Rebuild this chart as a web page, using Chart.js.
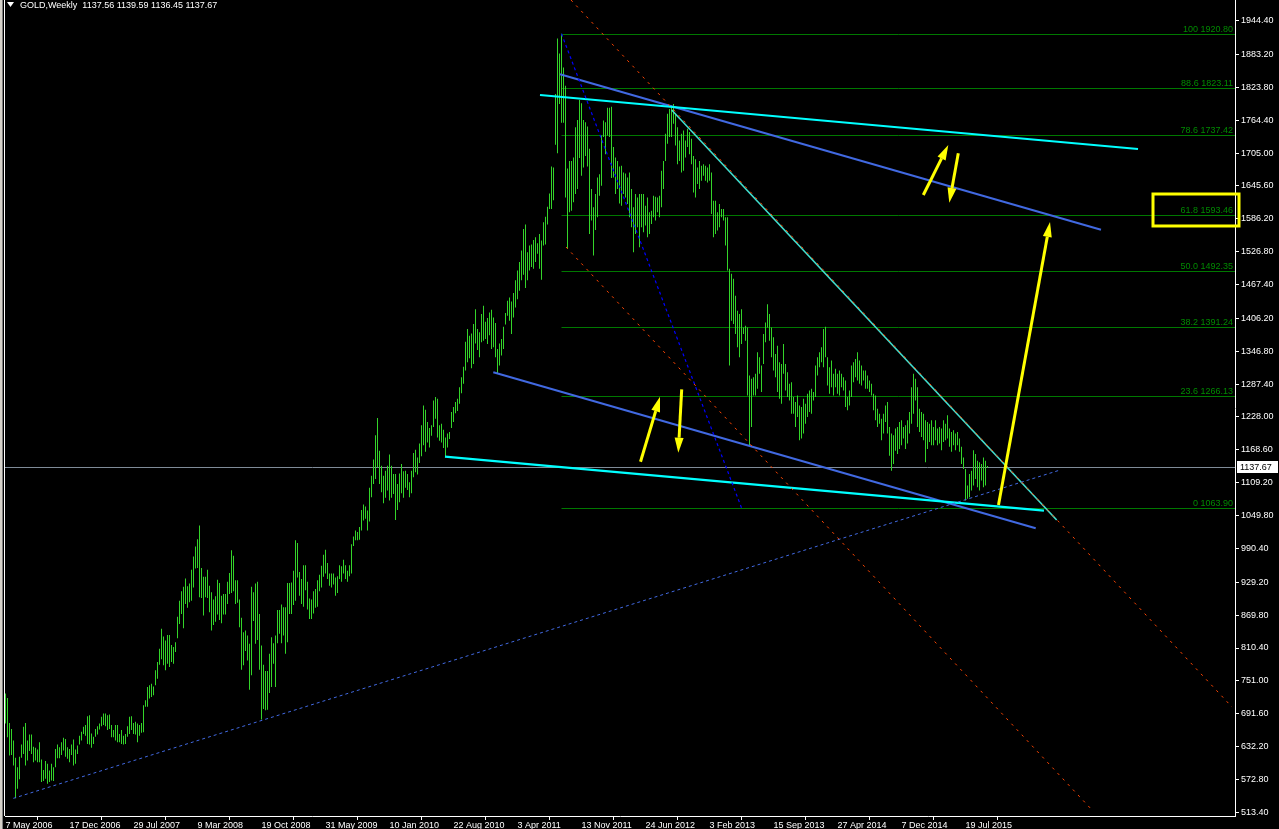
<!DOCTYPE html>
<html>
<head>
<meta charset="utf-8">
<title>GOLD,Weekly</title>
<script src="https://cdn.jsdelivr.net/npm/chart.js@4.4.1/dist/chart.umd.min.js"></script>
<style>
  html, body { margin: 0; padding: 0; background: #000; overflow: hidden; }
  canvas { display: block; }
</style>
</head>
<body>
<canvas id="chart" width="1279" height="829"></canvas>
<script>
// ---- values ----
const symbolTitle = 'GOLD,Weekly';
const lastBar = [1137.56, 1139.59, 1136.45, 1137.67]; // O H L C of the running week

// one date label every 32 weekly bars, first bar = week of 7 May 2006
const dateLabels = ['7 May 2006', '17 Dec 2006', '29 Jul 2007', '9 Mar 2008', '19 Oct 2008',
  '31 May 2009', '10 Jan 2010', '22 Aug 2010', '3 Apr 2011', '13 Nov 2011', '24 Jun 2012',
  '3 Feb 2013', '15 Sep 2013', '27 Apr 2014', '7 Dec 2014', '19 Jul 2015'];
const labelStep = 32;

const priceTicks = [1944.40, 1883.20, 1823.80, 1764.40, 1705.00, 1645.60, 1586.20, 1526.80,
  1467.40, 1406.20, 1346.80, 1287.40, 1228.00, 1168.60, 1109.20, 1049.80, 990.40, 929.20,
  869.80, 810.40, 751.00, 691.60, 632.20, 572.80, 513.40];

// weekly highs / lows
const weekHigh = [
  728,720,675,664,643,612,595,614,636,668,
  675,643,654,654,632,630,627,640,609,590,
  606,601,589,601,595,628,636,631,640,648,
  646,631,628,636,645,627,634,652,659,668,
  671,687,689,656,650,664,669,674,686,692,
  692,689,690,671,662,671,671,655,662,652,
  655,669,686,687,675,677,674,671,675,707,
  716,740,743,746,741,770,785,809,845,831,
  824,834,834,816,812,821,867,896,913,921,
  936,922,927,952,976,994,1007,1032,955,939,
  939,952,923,911,898,904,934,928,905,908,
  908,930,946,987,977,933,933,898,865,839,
  842,833,818,921,911,927,930,872,815,780,
  769,769,800,830,819,833,879,879,889,884,
  884,928,928,929,950,1005,1000,948,935,960,
  960,930,900,898,913,917,933,943,959,979,
  988,964,945,945,945,938,940,960,958,970,
  960,950,960,998,1012,1023,1020,1029,1060,1070,
  1066,1059,1100,1122,1151,1195,1226,1167,1140,1122,
  1131,1140,1160,1140,1125,1125,1107,1126,1143,1130,
  1131,1125,1110,1131,1163,1169,1155,1180,1213,1249,
  1241,1219,1208,1213,1258,1264,1261,1213,1216,1205,
  1191,1198,1201,1237,1246,1255,1261,1282,1300,1319,
  1364,1387,1375,1379,1396,1423,1387,1381,1414,1429,
  1400,1407,1417,1422,1408,1398,1351,1361,1369,1391,
  1416,1438,1444,1437,1452,1475,1493,1508,1529,1568,
  1576,1526,1538,1540,1548,1553,1542,1559,1547,1580,
  1590,1608,1632,1681,1679,1812,1912,1885,1921,1860,
  1827,1677,1691,1691,1697,1752,1765,1801,1795,1765,
  1761,1753,1713,1640,1607,1631,1661,1667,1737,1764,
  1761,1787,1787,1789,1716,1697,1691,1681,1682,1670,
  1668,1661,1670,1640,1607,1631,1625,1631,1631,1631,
  1610,1625,1598,1601,1628,1626,1625,1628,1673,1691,
  1740,1776,1785,1791,1794,1776,1752,1728,1740,1746,
  1728,1749,1743,1731,1700,1694,1679,1691,1682,1685,
  1682,1679,1685,1670,1619,1619,1598,1613,1604,1604,
  1589,1589,1496,1487,1478,1447,1420,1414,1423,1390,
  1393,1390,1303,1297,1300,1306,1345,1336,1321,1378,
  1399,1432,1414,1390,1372,1342,1357,1327,1324,1360,
  1324,1309,1288,1291,1264,1255,1267,1249,1246,1261,
  1252,1270,1276,1279,1273,1321,1336,1345,1354,1387,
  1391,1336,1318,1330,1306,1315,1306,1312,1306,1300,
  1294,1264,1276,1321,1327,1333,1345,1330,1321,1312,
  1312,1303,1294,1288,1270,1267,1243,1234,1225,1234,
  1249,1255,1210,1198,1195,1207,1210,1219,1222,1210,
  1213,1222,1237,1282,1306,1297,1282,1243,1237,1234,
  1222,1219,1216,1222,1210,1222,1207,1210,1207,1222,
  1216,1231,1207,1201,1204,1198,1201,1189,1174,1155,
  1134,1104,1125,1131,1168,1161,1149,1146,1143,1155,
  1149,1139.59
];
const weekLow = [
  674,649,616,617,598,539,556,573,612,619,
  598,607,624,619,604,607,604,604,568,570,
  574,565,568,571,570,595,611,611,617,625,
  614,610,604,617,598,601,619,636,643,655,
  652,637,636,630,637,650,654,663,669,671,
  669,662,664,649,649,643,640,640,637,636,
  637,650,655,662,655,654,640,652,657,658,
  704,704,719,722,725,743,755,780,790,779,
  770,782,776,785,782,803,828,854,872,846,
  890,883,893,896,920,954,955,902,901,869,
  902,901,875,842,852,858,871,861,855,871,
  871,890,908,910,913,890,892,848,771,779,
  805,788,735,761,859,818,825,771,681,700,
  698,699,729,740,782,740,819,836,819,833,
  800,821,872,872,888,896,938,905,890,885,
  915,880,863,863,873,883,885,913,920,939,
  945,935,923,920,925,905,910,935,930,945,
  935,930,940,945,995,1005,1005,1006,1023,1041,
  1044,1023,1039,1083,1107,1116,1137,1107,1092,1072,
  1082,1095,1077,1082,1089,1042,1060,1074,1090,1082,
  1100,1096,1083,1090,1119,1128,1124,1145,1157,1177,
  1165,1182,1173,1194,1210,1225,1191,1185,1182,1172,
  1155,1173,1188,1208,1219,1235,1239,1252,1271,1288,
  1312,1327,1334,1316,1324,1361,1349,1336,1363,1366,
  1369,1360,1376,1351,1354,1336,1307,1321,1339,1351,
  1395,1411,1402,1378,1408,1426,1441,1456,1475,1485,
  1461,1475,1493,1499,1496,1508,1523,1496,1476,1538,
  1540,1576,1604,1604,1620,1720,1705,1794,1760,1760,
  1625,1532,1598,1601,1616,1631,1640,1696,1664,1679,
  1700,1681,1559,1583,1520,1566,1589,1628,1646,1734,
  1703,1737,1734,1660,1661,1631,1640,1614,1610,1631,
  1625,1613,1589,1571,1526,1559,1571,1535,1571,1562,
  1574,1553,1559,1577,1589,1583,1598,1589,1607,1640,
  1691,1722,1734,1734,1758,1719,1685,1691,1670,1673,
  1697,1716,1703,1685,1634,1625,1649,1640,1655,1664,
  1655,1652,1655,1595,1553,1559,1565,1571,1589,1583,
  1538,1493,1321,1402,1396,1378,1354,1336,1360,1378,
  1366,1267,1177,1210,1267,1267,1279,1306,1273,1324,
  1363,1390,1366,1336,1312,1300,1273,1261,1252,1306,
  1276,1264,1258,1234,1234,1210,1228,1186,1189,1198,
  1216,1228,1237,1234,1258,1264,1303,1318,1327,1318,
  1336,1285,1270,1282,1267,1282,1270,1267,1282,1276,
  1246,1240,1249,1264,1291,1300,1294,1288,1285,1294,
  1279,1279,1273,1267,1240,1222,1210,1216,1186,1198,
  1219,1198,1158,1131,1143,1167,1161,1170,1177,1189,
  1170,1180,1198,1216,1234,1258,1210,1201,1192,1186,
  1146,1170,1183,1177,1177,1186,1177,1180,1168,1183,
  1186,1189,1174,1165,1177,1168,1177,1165,1143,1134,
  1077,1080,1083,1095,1104,1116,1101,1095,1113,1101,
  1104,1136.45
];

// Fibonacci retracement from the Sep 2011 top
const fibLevels = ['100', '88.6', '78.6', '61.8', '50.0', '38.2', '23.6', '0'];
const fibPrices = [1920.80, 1823.11, 1737.42, 1593.46, 1492.35, 1391.24, 1266.13, 1063.90];
const fibStartBar = 278;

// drawn trend lines: [bar1, price1, bar2, price2]
const trendLineEnds = [
  [267.25, 1810.1, 566.25, 1712.5],   // upper cyan
  [277.25, 1847.5, 547.75, 1566.6],   // upper blue
  [219.75, 1156.2, 519.25, 1058.6],   // lower cyan
  [243.9, 1308.8, 515.1, 1026.8],     // lower blue
  [333.1, 1782.9, 525.6, 1041.8],     // falling turquoise
  [282.75, 1981.8, 613.25, 703.7],    // channel, red dots
  [280.25, 1535.3, 543.75, 515.7],    // channel, red dots
  [278, 1920.8, 368, 1063.9],         // fibo base, blue dots
  [3.9, 538.6, 527.25, 1132.1]        // long support, blue dashes
];
// yellow arrows: [bar1, price1, barTip, priceTip]
const arrowEnds = [
  [317.5, 1147.1, 327.25, 1264.6],
  [338.1, 1278.0, 336.4, 1163.4],
  [458.9, 1629.3, 471.4, 1719.7],
  [476.4, 1704.7, 471.9, 1615.4],
  [496.5, 1068.9, 522.25, 1580.5]
];
// yellow frame round the 61.8 level: [bar1, priceTop, bar2, priceBottom]
const markedBox = [573.75, 1631.1, 616.75, 1573.3];

// ---- styles ----
const fontFamily = '"Liberation Sans", Arial, sans-serif';
const smallFont = '9px ' + fontFamily;
const barColor = '#33d429';
const fibColor = '#007800';
const fibTextColor = '#008a00';
const trendStyles = [
  { color: '#00ffff', width: 2.2, dash: [], order: 2 },
  { color: '#4169e1', width: 2, dash: [], order: 2 },
  { color: '#00ffff', width: 2.2, dash: [], order: 2 },
  { color: '#4169e1', width: 2, dash: [], order: 2 },
  { color: '#40e0d0', width: 1.6, dash: [], order: 3 },
  { color: '#ff4500', width: 1, dash: [2.5, 5], order: 1 },
  { color: '#ff4500', width: 1, dash: [2.5, 5], order: 1 },
  { color: '#0000ff', width: 1.2, dash: [3, 3], order: 1 },
  { color: '#4169e1', width: 1, dash: [3, 3], order: 1 }
];

const barData = weekHigh.map((h, i) => ({ x: i, y: [weekLow[i], h] }));

const lineSets = trendLineEnds.map((e, k) => ({
  type: 'line',
  data: [{ x: e[0], y: e[1] }, { x: e[2], y: e[3] }],
  borderColor: trendStyles[k].color,
  borderWidth: trendStyles[k].width,
  borderDash: trendStyles[k].dash,
  pointRadius: 0,
  fill: false,
  order: trendStyles[k].order
}));

function drawArrow(ctx, x1, y1, x2, y2) {
  const a = Math.atan2(y2 - y1, x2 - x1);
  const hl = 15, hw = 4.5;
  const bx = x2 - hl * Math.cos(a), by = y2 - hl * Math.sin(a);
  ctx.beginPath();
  ctx.moveTo(x1, y1);
  ctx.lineTo(bx, by);
  ctx.stroke();
  ctx.beginPath();
  ctx.moveTo(x2, y2);
  ctx.lineTo(bx + hw * Math.sin(a), by - hw * Math.cos(a));
  ctx.lineTo(bx - hw * Math.sin(a), by + hw * Math.cos(a));
  ctx.closePath();
  ctx.fill();
}

// no extra room for half labels at the ends of the axes
function noEndPadding(s) {
  s.paddingTop = 0;
  s.paddingBottom = 0;
  s.paddingLeft = 0;
  s.paddingRight = 0;
}

const terminalLook = {
  id: 'terminalLook',
  beforeDraw(chart) {
    const { ctx, width, height, chartArea } = chart;
    ctx.save();
    ctx.fillStyle = '#000';
    ctx.fillRect(0, 0, width, height);
    ctx.fillStyle = '#d4d0c8';
    ctx.fillRect(0, 0, 2, height);
    ctx.fillStyle = '#808080';
    ctx.fillRect(2, 0, 1, height);
    ctx.fillStyle = '#ffffff';
    ctx.fillRect(4, 0, 1, chartArea.bottom);
    ctx.restore();
  },
  beforeDatasetsDraw(chart) {
    const { ctx, chartArea: a, scales: { x, y } } = chart;
    ctx.save();
    ctx.lineWidth = 1;
    ctx.strokeStyle = fibColor;
    const x0 = x.getPixelForValue(fibStartBar);
    fibPrices.forEach(p => {
      const yy = Math.round(y.getPixelForValue(p)) + 0.5;
      ctx.beginPath();
      ctx.moveTo(x0, yy);
      ctx.lineTo(a.right, yy);
      ctx.stroke();
    });
    const yb = Math.round(y.getPixelForValue(lastBar[3])) + 0.5;
    ctx.strokeStyle = '#7f8b98';
    ctx.beginPath();
    ctx.moveTo(a.left, yb);
    ctx.lineTo(a.right, yb);
    ctx.stroke();
    ctx.restore();
  },
  afterDatasetsDraw(chart) {
    const { ctx, chartArea: a, scales: { x, y } } = chart;
    ctx.save();
    // fib labels
    ctx.font = smallFont;
    ctx.fillStyle = fibTextColor;
    ctx.textAlign = 'right';
    ctx.textBaseline = 'alphabetic';
    fibPrices.forEach((p, k) => {
      const yy = Math.round(y.getPixelForValue(p));
      ctx.fillText(fibLevels[k] + ' ' + p.toFixed(2), a.right - 2, yy - 2);
    });
    // arrows
    ctx.strokeStyle = '#ffff00';
    ctx.fillStyle = '#ffff00';
    ctx.lineWidth = 3;
    arrowEnds.forEach(e => {
      drawArrow(ctx, x.getPixelForValue(e[0]), y.getPixelForValue(e[1]),
        x.getPixelForValue(e[2]), y.getPixelForValue(e[3]));
    });
    // frame
    const bx1 = x.getPixelForValue(markedBox[0]), by1 = y.getPixelForValue(markedBox[1]);
    const bx2 = x.getPixelForValue(markedBox[2]), by2 = y.getPixelForValue(markedBox[3]);
    ctx.lineWidth = 3;
    ctx.strokeRect(bx1, by1, bx2 - bx1, by2 - by1);
    ctx.restore();
  },
  afterDraw(chart) {
    const { ctx, chartArea: a, scales: { y } } = chart;
    ctx.save();
    // header
    ctx.fillStyle = '#ffffff';
    ctx.beginPath();
    ctx.moveTo(7, 2);
    ctx.lineTo(14, 2);
    ctx.lineTo(10.5, 7);
    ctx.closePath();
    ctx.fill();
    ctx.font = smallFont;
    ctx.textAlign = 'left';
    ctx.textBaseline = 'alphabetic';
    ctx.fillText(symbolTitle + '  ' + lastBar.map(v => v.toFixed(2)).join(' '), 20, 8);
    // price tag on the axis
    const yb = Math.round(y.getPixelForValue(lastBar[3]));
    ctx.fillRect(a.right + 2, yb - 6, 41, 12);
    ctx.fillStyle = '#000000';
    ctx.textBaseline = 'middle';
    ctx.fillText(lastBar[3].toFixed(2), a.right + 5, yb + 0.5);
    ctx.restore();
  }
};

new Chart(document.getElementById('chart'), {
  type: 'bar',
  data: {
    datasets: [
      ...lineSets,
      {
        type: 'bar',
        data: barData,
        backgroundColor: barColor,
        borderWidth: 0,
        barThickness: 1,
        inflateAmount: 0,
        grouped: false,
        order: 10
      }
    ]
  },
  options: {
    responsive: false,
    animation: false,
    devicePixelRatio: 1,
    layout: { padding: { left: 5, top: 0, right: 0, bottom: 0 } },
    plugins: { legend: { display: false }, tooltip: { enabled: false } },
    scales: {
      x: {
        type: 'linear',
        min: -0.25,
        max: 614.75,
        offset: false,
        afterFit: s => { s.height = 13; noEndPadding(s); },
        afterBuildTicks: s => { s.ticks = dateLabels.map((_, k) => ({ value: k * labelStep })); },
        ticks: {
          callback: v => dateLabels[Math.round(v / labelStep)],
          color: '#ffffff',
          font: { family: fontFamily, size: 9 },
          align: 'start',
          maxRotation: 0,
          autoSkip: false,
          padding: 0
        },
        grid: { drawOnChartArea: false, drawTicks: true, tickLength: 4, color: '#ffffff' },
        border: { color: '#ffffff' }
      },
      y: {
        position: 'right',
        min: 506.71,
        max: 1981.82,
        afterFit: s => { s.width = 44; noEndPadding(s); },
        afterBuildTicks: s => { s.ticks = priceTicks.map(v => ({ value: v })); },
        ticks: {
          callback: v => v.toFixed(2),
          color: '#ffffff',
          font: { family: fontFamily, size: 9 },
          padding: 2,
          autoSkip: false
        },
        grid: { drawOnChartArea: false, drawTicks: true, tickLength: 4, color: '#ffffff' },
        border: { color: '#ffffff' }
      }
    }
  },
  plugins: [terminalLook]
});
</script>
</body>
</html>
